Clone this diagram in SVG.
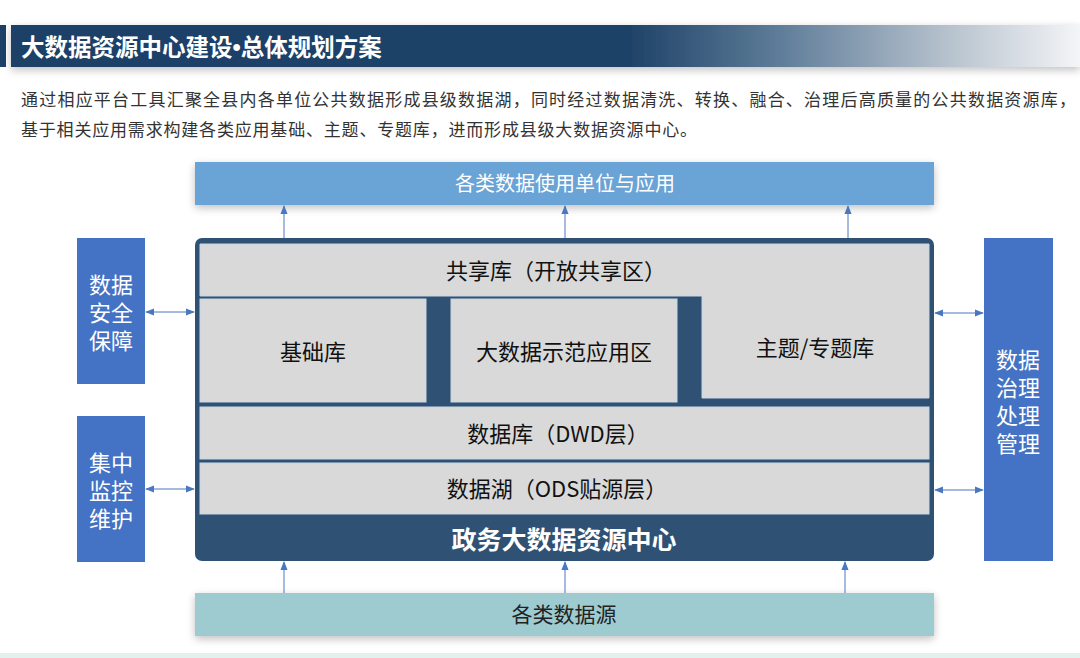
<svg xmlns="http://www.w3.org/2000/svg" width="1080" height="658" viewBox="0 0 1080 658">
<defs>
<linearGradient id="hdr" x1="0" y1="0" x2="1" y2="0">
<stop offset="0" stop-color="#1d4066"/>
<stop offset="0.58" stop-color="#1f4368"/>
<stop offset="0.72" stop-color="#5f7d99"/>
<stop offset="0.87" stop-color="#b3bfcb"/>
<stop offset="1" stop-color="#f4f5f7"/>
</linearGradient>
<filter id="sh" x="-5%" y="-30%" width="110%" height="180%">
<feGaussianBlur in="SourceAlpha" stdDeviation="4"/>
<feOffset dy="3"/>
<feComponentTransfer><feFuncA type="linear" slope="0.25"/></feComponentTransfer>
<feMerge><feMergeNode/><feMergeNode in="SourceGraphic"/></feMerge>
</filter>
<marker id="ah" viewBox="0 0 10 10" refX="9" refY="5" markerWidth="9" markerHeight="9" markerUnits="userSpaceOnUse" orient="auto-start-reverse">
<path d="M0,1 L10,5 L0,9 z" fill="#4a78c0"/>
</marker>
<style>
text{font-family:"Noto Sans CJK SC","Microsoft YaHei",sans-serif}
.para{font-size:17px;fill:#333}
.layer{fill:#d9d9d9;stroke:#c9d6e3;stroke-width:1}
.lt{font-size:22px;fill:#111;text-anchor:middle}
.side{fill:#4472c4}
.st{font-size:22px;fill:#fff;text-anchor:middle}
.conn{stroke:#4a78c0;stroke-width:1;fill:none}
</style>
</defs>
<rect width="1080" height="658" fill="#fff"/>
<g id="header">
<rect x="0" y="25" width="6" height="42" fill="#1d4066"/>
<rect x="11" y="25" width="1069" height="42" fill="url(#hdr)" filter="url(#sh)"/>
<text x="21" y="56" font-size="23.5" font-weight="bold" fill="#fff">大数据资源中心建设<tspan font-family="Liberation Sans, sans-serif">•</tspan>总体规划方案</text>
</g>
<g id="intro">
<text class="para" x="21" y="106" textLength="1055">通过相应平台工具汇聚全县内各单位公共数据形成县级数据湖，同时经过数据清洗、转换、融合、治理后高质量的公共数据资源库，</text>
<text class="para" x="21" y="136" textLength="676">基于相关应用需求构建各类应用基础、主题、专题库，进而形成县级大数据资源中心。</text>
</g>
<g id="apps">
<rect x="195" y="162" width="739" height="43" fill="#6aa3d6" filter="url(#sh)"/>
<text x="565" y="191" font-size="20" fill="#fff" text-anchor="middle">各类数据使用单位与应用</text>
</g>
<g id="center">
<rect x="195" y="238" width="739" height="323" rx="7" fill="#2f5274"/>
<g id="shared">
<path class="layer" d="M200,244 H929 V398 H702 V296 H200 Z"/>
<text class="lt" x="556" y="279">共享库（开放共享区）</text>
</g>
<g id="base">
<rect class="layer" x="200" y="299" width="226" height="103"/>
<text class="lt" x="313" y="360">基础库</text>
</g>
<g id="demo">
<rect class="layer" x="451" y="299" width="226" height="103"/>
<text class="lt" x="564" y="360">大数据示范应用区</text>
</g>
<g id="topic">
<text class="lt" x="815" y="356">主题/专题库</text>
</g>
<g id="dwd">
<rect class="layer" x="200" y="407" width="729" height="52"/>
<text class="lt" x="558" y="442">数据库（DWD层）</text>
</g>
<g id="ods">
<rect class="layer" x="200" y="463" width="729" height="51"/>
<text class="lt" x="557" y="497">数据湖（ODS贴源层）</text>
</g>
<text x="564" y="549" font-size="25" font-weight="bold" fill="#fff" text-anchor="middle">政务大数据资源中心</text>
</g>
<g id="security">
<rect class="side" x="77" y="238" width="68" height="146"/>
<text class="st" x="111" y="293">数据</text>
<text class="st" x="111" y="321">安全</text>
<text class="st" x="111" y="349">保障</text>
</g>
<g id="monitor">
<rect class="side" x="77" y="416" width="68" height="146"/>
<text class="st" x="111" y="471">集中</text>
<text class="st" x="111" y="499">监控</text>
<text class="st" x="111" y="527">维护</text>
</g>
<g id="governance">
<rect class="side" x="984" y="238" width="69" height="323"/>
<text class="st" x="1018" y="368">数据</text>
<text class="st" x="1018" y="396">治理</text>
<text class="st" x="1018" y="424">处理</text>
<text class="st" x="1018" y="452">管理</text>
</g>
<g id="sources">
<rect x="195" y="593" width="739" height="43" fill="#9ecbd0" filter="url(#sh)"/>
<text x="564" y="622" font-size="21" fill="#222" text-anchor="middle">各类数据源</text>
</g>
<rect x="0" y="653" width="1080" height="5" fill="#e3f1ee"/>
<g id="connectors">
<line class="conn" x1="284" y1="238" x2="284" y2="206" marker-end="url(#ah)"/>
<line class="conn" x1="565" y1="238" x2="565" y2="206" marker-end="url(#ah)"/>
<line class="conn" x1="848" y1="238" x2="848" y2="206" marker-end="url(#ah)"/>
<line class="conn" x1="284" y1="593" x2="284" y2="562" marker-end="url(#ah)"/>
<line class="conn" x1="565" y1="593" x2="565" y2="562" marker-end="url(#ah)"/>
<line class="conn" x1="845" y1="593" x2="845" y2="562" marker-end="url(#ah)"/>
<line class="conn" x1="146" y1="312" x2="194" y2="312" marker-start="url(#ah)" marker-end="url(#ah)"/>
<line class="conn" x1="146" y1="489" x2="194" y2="489" marker-start="url(#ah)" marker-end="url(#ah)"/>
<line class="conn" x1="935" y1="313" x2="983" y2="313" marker-start="url(#ah)" marker-end="url(#ah)"/>
<line class="conn" x1="935" y1="490" x2="983" y2="490" marker-start="url(#ah)" marker-end="url(#ah)"/>
</g>
</svg>
